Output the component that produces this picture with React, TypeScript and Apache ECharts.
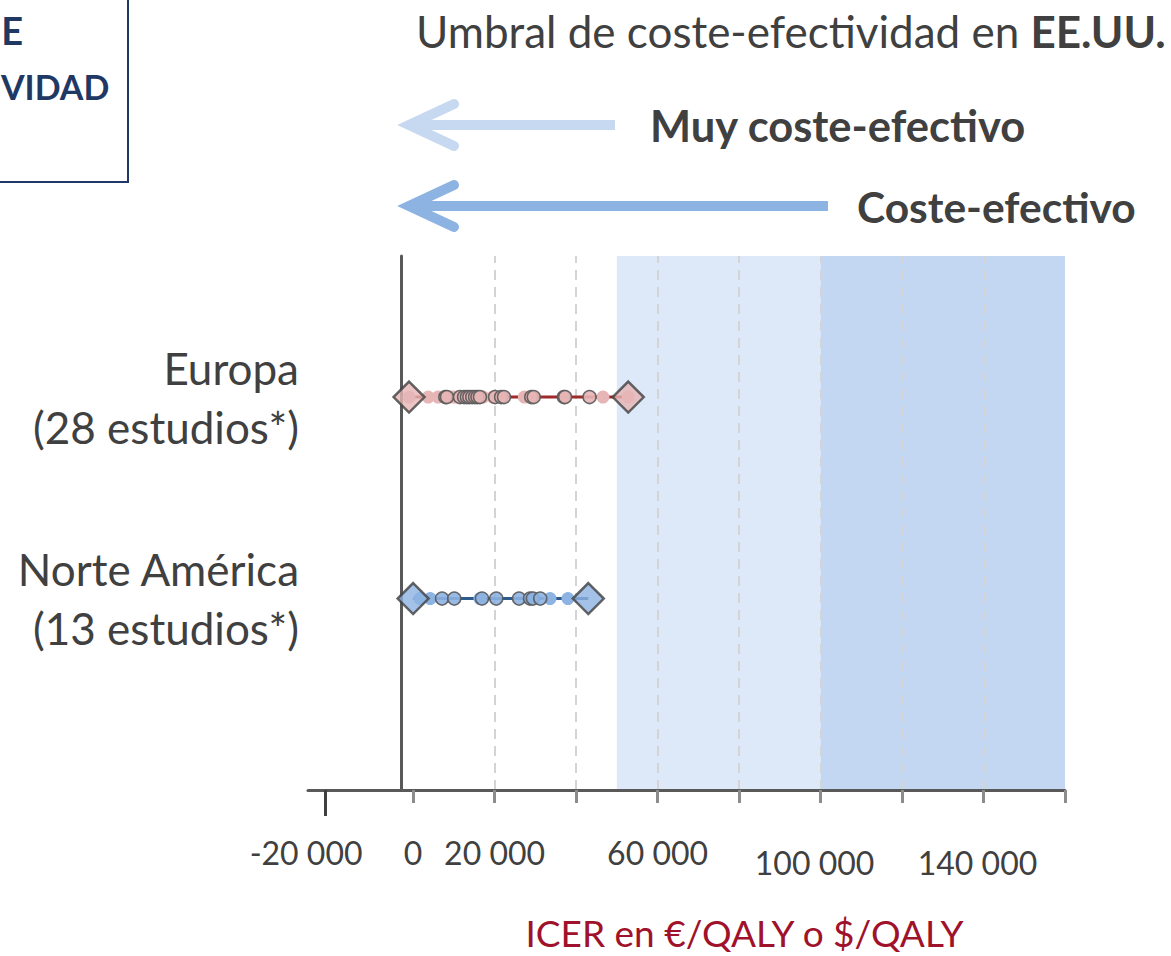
import React, { useEffect, useRef } from "react";
import * as echarts from "echarts";

// ---------- data ----------
const REGIONS = ["Europa", "Norte América"];
const REGION_STUDIES = ["(28 estudios*)", "(13 estudios*)"];
const REGION_ROW = [2, 1];

// ICER ranges (min, max) per region
const EU_RANGE = [-1000, 52800];
const NA_RANGE = [0, 43000];

// individual studies (ICER, €/QALY or $/QALY)
const EU_OUTLINED = [7900, 8300, 11500, 12500, 13200, 13800, 14500, 15200, 15800, 16400, 20100, 21600, 22300, 29000, 29600, 37000, 37300, 43300];
const EU_PLAIN = [-1000, 3700, 6100, 9600, 10500, 17200, 19600, 27300, 46600, 52800];
const NA_OUTLINED = [7100, 10100, 16900, 20400, 26000, 28700, 29400, 31200];
const NA_PLAIN = [1700, 4200, 16400, 33600, 38000];

// US thresholds: very cost-effective < 50 000, cost-effective < 100 000 (band drawn up to 160 000)
const THRESHOLDS = [50000, 100000, 160000];

// axes
const X_MIN = -25800;
const X_MAX = 160000;
const Y_MIN = 0.05;
const Y_MAX = 2.7;
const TICKS = [0, 20000, 40000, 60000, 80000, 100000, 120000, 140000, 160000];
const GRID_VALUES = [20000, 40000, 60000, 80000, 100000, 120000, 140000];
const LONG_TICK = [-21600];
const LABEL_VALUES = [-21600, 0, 20000, 60000, 100000, 140000];
const LABEL_TEXTS = ["-20 000", "0", "20 000", "60 000", "100 000", "140 000"];
const LABEL_STYLE = ["l", "n", "n", "n", "r", "r"];

const TITLE = "Umbral de coste-efectividad en ";
const TITLE_BOLD = "EE.UU.";
const ARROW_TEXTS = ["Muy coste-efectivo", "Coste-efectivo"];
const AXIS_NAME = "ICER en €/QALY o $/QALY";
const BOX_LINES = ["E", "VIDAD"];

// ---------- styles ----------
const FONT = "Lato, 'Noto Sans', sans-serif";
const TEXT = "#404040";
const EU_FILL = "#e6b5b5";
const EU_LINE = "#9e2a2b";
const NA_FILL = "#8db3e2";
const NA_LINE = "#2e5b8e";
const LIGHT_BAND = "#dde8f8";
const DARK_BAND = "#c3d7f2";
const NAVY = "#1f3864";

function buildOption() {
  const pts = (vals: number[], row: number) => vals.map((v) => [v, row]);
  return {
    animation: false,
    backgroundColor: "#ffffff",
    textStyle: { fontFamily: FONT },
    title: {
      text: TITLE + "{b|" + TITLE_BOLD + "}",
      left: 411,
      top: 4,
      textStyle: {
        fontFamily: FONT,
        fontSize: 44,
        fontWeight: "normal",
        color: TEXT,
        rich: { b: { fontFamily: FONT, fontSize: 44, fontWeight: "bold", color: TEXT } },
      },
    },
    grid: { left: 308, right: 106, top: 256, bottom: 152, containLabel: false },
    xAxis: [
      {
        type: "value",
        min: X_MIN,
        max: X_MAX,
        z: 1,
        axisLine: { show: true, onZero: false, lineStyle: { color: "#595959", width: 3 } },
        axisTick: { show: true, customValues: TICKS, length: 13, lineStyle: { color: "#8c8c8c", width: 3 } },
        splitLine: { show: false },
        axisLabel: {
          show: true,
          customValues: LABEL_VALUES,
          margin: 46,
          formatter: (v: number) => {
            const i = LABEL_VALUES.indexOf(v);
            return i < 0 ? "" : "{" + LABEL_STYLE[i] + "|" + LABEL_TEXTS[i] + "}";
          },
          rich: {
            n: { fontFamily: FONT, fontSize: 32, color: TEXT },
            l: { fontFamily: FONT, fontSize: 32, color: TEXT, padding: [0, 38, 0, 0] },
            r: { fontFamily: FONT, fontSize: 32, color: TEXT, padding: [10, 12, 0, 0] },
          },
        },
        name: AXIS_NAME,
        nameLocation: "middle",
        nameGap: 124,
        nameTextStyle: { fontFamily: FONT, fontSize: 37, color: "#a0112b", padding: [0, 0, 0, 116] },
      },
      {
        type: "value",
        min: X_MIN,
        max: X_MAX,
        position: "bottom",
        z: 1,
        axisLine: { show: false },
        axisLabel: { show: false },
        splitLine: { show: false },
        axisTick: { show: true, customValues: LONG_TICK, length: 26, lineStyle: { color: "#404040", width: 3 } },
      },
    ],
    yAxis: {
      type: "value",
      min: Y_MIN,
      max: Y_MAX,
      position: "left",
      offset: -93,
      z: 1,
      axisLine: { show: true, onZero: false, lineStyle: { color: "#595959", width: 3 } },
      axisTick: { show: false },
      splitLine: { show: false },
      axisLabel: {
        show: true,
        customValues: REGION_ROW,
        margin: 102,
        align: "right",
        fontFamily: FONT,
        fontSize: 44,
        lineHeight: 59,
        color: TEXT,
        padding: [12, 0, 0, 0],
        formatter: (v: number) => {
          const i = REGION_ROW.indexOf(v);
          return i < 0 ? "" : REGIONS[i] + "\n" + REGION_STUDIES[i];
        },
      },
    },
    series: [
      {
        type: "scatter",
        name: "umbral",
        data: [],
        silent: true,
        markArea: {
          silent: true,
          z: 0,
          data: [
            [{ xAxis: THRESHOLDS[0], itemStyle: { color: LIGHT_BAND } }, { xAxis: THRESHOLDS[1] }],
            [{ xAxis: THRESHOLDS[1], itemStyle: { color: DARK_BAND } }, { xAxis: THRESHOLDS[2] }],
          ],
        },
        markLine: {
          silent: true,
          z: 1,
          symbol: "none",
          label: { show: false },
          lineStyle: { color: "#d4d4d4", width: 2, type: [10, 7] },
          data: GRID_VALUES.map((v) => ({ xAxis: v })),
        },
      },
      {
        type: "line",
        data: pts(EU_RANGE, REGION_ROW[0]),
        symbol: "none",
        z: 2,
        lineStyle: { color: EU_LINE, width: 3 },
      },
      {
        type: "line",
        data: pts(NA_RANGE, REGION_ROW[1]),
        symbol: "none",
        z: 2,
        lineStyle: { color: NA_LINE, width: 3 },
      },
      {
        type: "scatter",
        data: pts(EU_PLAIN, REGION_ROW[0]),
        symbolSize: 13,
        z: 3,
        itemStyle: { color: EU_FILL, borderWidth: 0, opacity: 1 },
      },
      {
        type: "scatter",
        data: pts(EU_OUTLINED, REGION_ROW[0]),
        symbolSize: 13,
        z: 3,
        itemStyle: { color: EU_FILL, borderColor: "#595959", borderWidth: 1.5, opacity: 0.9 },
      },
      {
        type: "scatter",
        data: pts(NA_PLAIN, REGION_ROW[1]),
        symbolSize: 13,
        z: 3,
        itemStyle: { color: NA_FILL, borderWidth: 0, opacity: 1 },
      },
      {
        type: "scatter",
        data: pts(NA_OUTLINED, REGION_ROW[1]),
        symbolSize: 13,
        z: 3,
        itemStyle: { color: NA_FILL, borderColor: "#595959", borderWidth: 1.5, opacity: 0.9 },
      },
      {
        type: "scatter",
        symbol: "diamond",
        symbolSize: 31,
        data: pts(EU_RANGE, REGION_ROW[0]),
        z: 4,
        itemStyle: { color: EU_FILL, borderColor: "#404040", borderWidth: 2.5 },
      },
      {
        type: "scatter",
        symbol: "diamond",
        symbolSize: 31,
        data: pts(NA_RANGE, REGION_ROW[1]),
        z: 4,
        itemStyle: { color: NA_FILL, borderColor: "#404040", borderWidth: 2.5 },
      },
    ],
    graphic: [
      {
        type: "rect",
        shape: { x: -20, y: -20, width: 148, height: 202 },
        style: { fill: "#ffffff", stroke: NAVY, lineWidth: 2 },
      },
      {
        type: "text",
        x: 23,
        y: 30,
        style: { text: BOX_LINES[0], align: "right", verticalAlign: "middle", fill: NAVY, fontSize: 38, fontWeight: "bold", fontFamily: FONT },
      },
      {
        type: "text",
        x: 1,
        y: 86,
        style: { text: BOX_LINES[1], align: "left", verticalAlign: "middle", fill: NAVY, fontSize: 34, fontWeight: "bold", fontFamily: FONT },
      },
      {
        type: "polyline",
        shape: { points: [[408, 125], [615, 125]] },
        style: { stroke: "#c6d9f1", lineWidth: 10, lineCap: "butt", fill: null },
      },
      {
        type: "polyline",
        shape: { points: [[454, 104], [409, 125], [454, 146]] },
        style: { stroke: "#c6d9f1", lineWidth: 10, lineCap: "round", lineJoin: "miter", fill: null },
      },
      {
        type: "polyline",
        shape: { points: [[408, 206], [828, 206]] },
        style: { stroke: "#8db3e2", lineWidth: 10, lineCap: "butt", fill: null },
      },
      {
        type: "polyline",
        shape: { points: [[454, 185], [409, 206], [454, 227]] },
        style: { stroke: "#8db3e2", lineWidth: 10, lineCap: "round", lineJoin: "miter", fill: null },
      },
      {
        type: "text",
        x: 650,
        y: 125,
        style: { text: ARROW_TEXTS[0], align: "left", verticalAlign: "middle", fill: TEXT, fontSize: 43.5, fontWeight: "bold", fontFamily: FONT },
      },
      {
        type: "text",
        x: 857,
        y: 206,
        style: { text: ARROW_TEXTS[1], align: "left", verticalAlign: "middle", fill: TEXT, fontSize: 42.5, fontWeight: "bold", fontFamily: FONT },
      },
    ],
  };
}

export default function App() {
  const ref = useRef<HTMLDivElement>(null);
  useEffect(() => {
    if (!ref.current) return;
    const chart = echarts.init(ref.current, null, { renderer: "svg" });
    chart.setOption(buildOption() as any);
    return () => chart.dispose();
  }, []);
  return (
    <div
      ref={ref}
      style={{ position: "absolute", left: 0, top: 0, width: 1171, height: 956, background: "#ffffff" }}
    />
  );
}
